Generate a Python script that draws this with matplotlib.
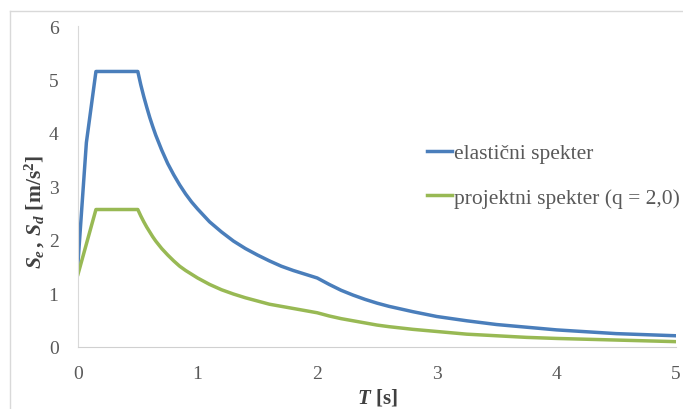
import matplotlib
matplotlib.use("Agg")
import matplotlib.pyplot as plt
from matplotlib.lines import Line2D

plt.rcParams['font.family'] = ['Liberation Serif', 'DejaVu Serif']
plt.rcParams['mathtext.fontset'] = 'custom'
plt.rcParams['mathtext.rm'] = 'Liberation Serif:bold'
plt.rcParams['mathtext.it'] = 'Liberation Serif:bold:italic'
plt.rcParams['mathtext.bf'] = 'Liberation Serif:bold'

# Elastic spectrum
T_el = [0, 0.07, 0.15, 0.5, 0.525, 0.55, 0.575, 0.6, 0.625, 0.65, 0.7, 0.75, 0.8, 0.85,
        0.9, 0.95, 1.0, 1.1, 1.2, 1.3, 1.4, 1.5, 1.6, 1.7, 1.8, 1.9, 2.0,
        2.1, 2.2, 2.3, 2.4, 2.5, 2.6, 2.8, 3.0, 3.25, 3.5, 3.75, 4.0, 4.5, 5.0]
S_el = [1.58, 3.82, 5.15, 5.15, 4.90, 4.68, 4.48, 4.29, 4.12, 3.96, 3.68, 3.43, 3.22, 3.03,
        2.86, 2.71, 2.58, 2.34, 2.15, 1.98, 1.84, 1.72, 1.61, 1.51, 1.43, 1.36, 1.29,
        1.17, 1.06, 0.97, 0.89, 0.82, 0.76, 0.66, 0.57, 0.49, 0.42, 0.37, 0.32, 0.25, 0.21]

# Design spectrum q = 2.0
T_d = [0, 0.15, 0.5, 0.525, 0.55, 0.575, 0.6, 0.625, 0.65, 0.7, 0.75, 0.8, 0.85,
       0.9, 0.95, 1.0, 1.1, 1.2, 1.3, 1.4, 1.5, 1.6, 1.7, 1.8, 1.9, 2.0,
       2.1, 2.2, 2.3, 2.4, 2.5, 2.6, 2.8, 3.0, 3.25, 3.5, 3.75, 4.0, 4.5, 5.0]
S_d = [1.36, 2.57, 2.57, 2.45, 2.34, 2.24, 2.15, 2.06, 1.98, 1.84, 1.72, 1.61, 1.51,
       1.43, 1.36, 1.29, 1.17, 1.07, 0.99, 0.92, 0.86, 0.80, 0.76, 0.72, 0.68, 0.64,
       0.58, 0.53, 0.49, 0.45, 0.41, 0.38, 0.33, 0.29, 0.24, 0.21, 0.18, 0.16, 0.13, 0.10]

labels = ['elastični spekter', 'projektni spekter (q = 2,0)']
x_ticks = [0, 1, 2, 3, 4, 5]
y_ticks = [0, 1, 2, 3, 4, 5, 6]

W, H = 683, 410
fig = plt.figure(figsize=(W / 100, H / 100), dpi=100)
ax = fig.add_axes([78 / W, 1 - 348 / H, (676 - 78) / W, (348 - 27) / H])

ax.plot(T_el, S_el, color='#4A7EBB', lw=2.5, label=labels[0], solid_joinstyle='round')
ax.plot(T_d, S_d, color='#98B954', lw=2.5, label=labels[1], solid_joinstyle='round')

ax.set_xlim(0, 5)
ax.set_ylim(0, 6)
ax.set_xticks(x_ticks)
ax.set_yticks(y_ticks)
ax.tick_params(length=0, labelsize=14, labelcolor='#595959')
ax.tick_params(axis='y', pad=14)
ax.tick_params(axis='x', pad=13)
for s in ['top', 'right']:
    ax.spines[s].set_visible(False)
ax.spines['left'].set_color('#D9D9D9')
ax.spines['bottom'].set_color('#D0D0D0')

fig.text(35 / W, 1 - 212 / H, r'$S_e\,,\,S_d\ \mathrm{[m/s^2]}$', fontsize=15.5,
         color='#404040', rotation=90, ha='center', va='center')
fig.text(377 / W, 1 - 398 / H, r'$T\ \mathrm{[s]}$', fontsize=15,
         color='#404040', ha='center', va='center')

leg = ax.legend(loc='upper left', bbox_to_anchor=(427 / W, 1 - 144 / H),
                bbox_transform=fig.transFigure, frameon=False, fontsize=15.5,
                handlelength=1.16, handletextpad=0.1, labelspacing=1.15,
                borderaxespad=0, borderpad=0)
for t in leg.get_texts():
    t.set_color('#595959')

# figure border (partial, as in reference)
fig.add_artist(Line2D([10 / W, 10 / W], [0, 1 - 12 / H], transform=fig.transFigure,
                      color='#D9D9D9', lw=1))
fig.add_artist(Line2D([10 / W, 1], [1 - 12 / H, 1 - 12 / H], transform=fig.transFigure,
                      color='#D9D9D9', lw=1))

fig.savefig('out.png', dpi=100)
